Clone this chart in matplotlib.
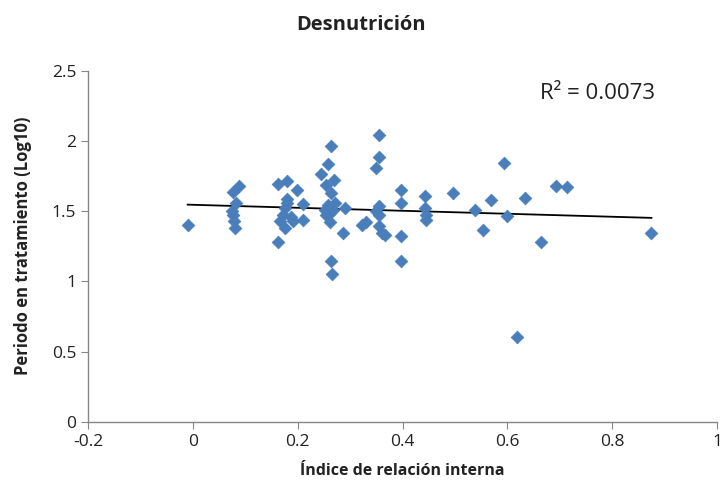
import numpy as np
import matplotlib.pyplot as plt

plt.rcParams['font.family'] = ['Open Sans', 'DejaVu Sans']

# values
indice = [-0.010, 0.088, 0.076, 0.082, 0.074, 0.076, 0.078, 0.080,
          0.163, 0.180, 0.198, 0.179, 0.210, 0.179, 0.172, 0.188, 0.166,
          0.191, 0.210, 0.176, 0.163, 0.175,
          0.263, 0.258, 0.245, 0.269, 0.254, 0.263, 0.258, 0.271, 0.261,
          0.254, 0.261, 0.287, 0.263, 0.266, 0.290, 0.252, 0.268,
          0.356, 0.356, 0.349, 0.356, 0.350, 0.356, 0.322, 0.331, 0.356,
          0.360, 0.366,
          0.398, 0.398, 0.398, 0.398, 0.443, 0.443, 0.445, 0.445,
          0.497, 0.539, 0.594, 0.569, 0.554, 0.599, 0.634, 0.665, 0.692,
          0.713, 0.618, 0.875]
periodo = [1.40, 1.676, 1.633, 1.558, 1.50, 1.47, 1.43, 1.38,
           1.695, 1.712, 1.653, 1.586, 1.550, 1.558, 1.474, 1.462, 1.427,
           1.427, 1.434, 1.38, 1.28, 1.52,
           1.962, 1.838, 1.765, 1.724, 1.688, 1.629, 1.546, 1.558, 1.486,
           1.474, 1.42, 1.344, 1.148, 1.05, 1.522, 1.51, 1.51,
           2.04, 1.886, 1.807, 1.539, 1.498, 1.474, 1.403, 1.42, 1.391,
           1.344, 1.332,
           1.653, 1.558, 1.325, 1.148, 1.61, 1.522, 1.474, 1.434,
           1.626, 1.505, 1.843, 1.581, 1.367, 1.467, 1.593, 1.28, 1.681,
           1.672, 0.602, 1.344]
r2_text = 'R² = 0.0073'

x = np.array(indice)
y = np.array(periodo)

fig = plt.figure(figsize=(7.22, 4.95), dpi=100)
ax = fig.add_axes([0.122, 0.148, 0.871, 0.709])

ax.scatter(x, y, marker='D', s=42, color='#4A7EBB', edgecolors='#4A7EBB',
           linewidths=0.5, zorder=3)

# linear trend line over the data range
m, b = np.polyfit(x, y, 1)
xl = np.array([x.min(), x.max()])
ax.plot(xl, m * xl + b, color='black', lw=1.3, zorder=2)

ax.text(0.662, 2.34, r2_text, fontsize=16, va='center', ha='left', color='#222222')

ax.set_xlim(-0.2, 1.0)
ax.set_ylim(0, 2.5)
ax.set_xticks([-0.2, 0, 0.2, 0.4, 0.6, 0.8, 1.0])
ax.set_xticklabels(['-0.2', '0', '0.2', '0.4', '0.6', '0.8', '1'])
ax.set_yticks([0, 0.5, 1, 1.5, 2, 2.5])
ax.set_yticklabels(['0', '0.5', '1', '1.5', '2', '2.5'])

for s in ['top', 'right']:
    ax.spines[s].set_visible(False)
for s in ['left', 'bottom']:
    ax.spines[s].set_color('#868686')
    ax.spines[s].set_linewidth(1.0)
ax.tick_params(colors='#868686', labelcolor='#222222', labelsize=12.5, length=5,
               direction='out')

ax.set_xlabel('Índice de relación interna', fontsize=11.5, fontweight='bold',
              color='#222222', labelpad=10)
ax.set_ylabel('Periodo en tratamiento (Log10)', fontsize=12, fontweight='bold',
              color='#222222', labelpad=14)
fig.suptitle('Desnutrición', fontsize=14.5, fontweight='bold', color='#222222',
             y=0.97)

fig.savefig('out.png', dpi=100)
